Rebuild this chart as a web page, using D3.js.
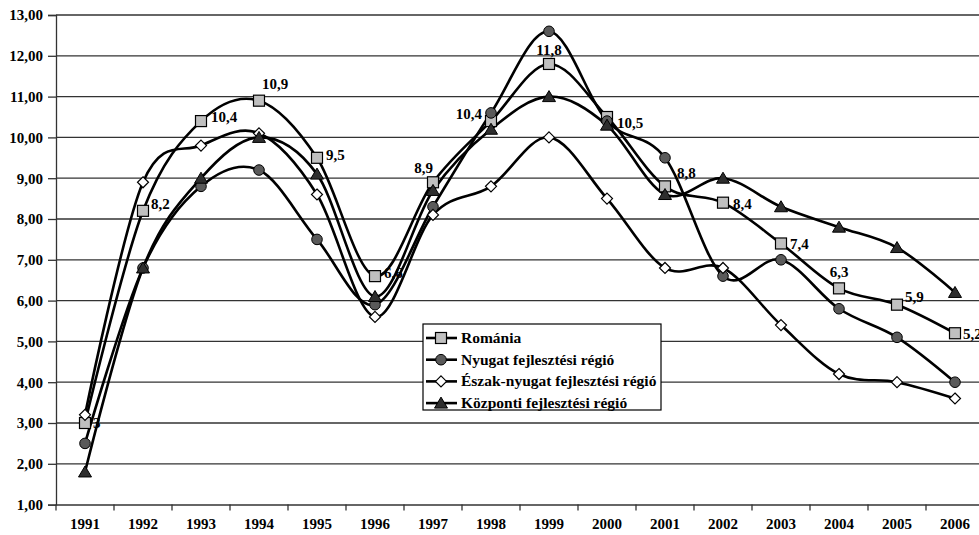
<!DOCTYPE html>
<html>
<head>
<meta charset="utf-8">
<script src="https://cdn.jsdelivr.net/npm/d3@7"></script>
<style>
body { margin: 0; background: #fff; }
text { font-family: "Liberation Serif", "Times New Roman", serif; font-weight: bold; }
</style>
</head>
<body>
<svg width="979" height="535"></svg>
<script>
var years = ["1991","1992","1993","1994","1995","1996","1997","1998","1999","2000","2001","2002","2003","2004","2005","2006"];
var romania   = [3.0, 8.2, 10.4, 10.9, 9.5, 6.6, 8.9, 10.4, 11.8, 10.5, 8.8, 8.4, 7.4, 6.3, 5.9, 5.2];
var nyugat    = [2.5, 6.8, 8.8, 9.2, 7.5, 5.9, 8.3, 10.6, 12.6, 10.4, 9.5, 6.6, 7.0, 5.8, 5.1, 4.0];
var eszakNy   = [3.2, 8.9, 9.8, 10.1, 8.6, 5.6, 8.1, 8.8, 10.0, 8.5, 6.8, 6.8, 5.4, 4.2, 4.0, 3.6];
var kozponti  = [1.8, 6.8, 9.0, 10.0, 9.1, 6.1, 8.7, 10.2, 11.0, 10.3, 8.6, 9.0, 8.3, 7.8, 7.3, 6.2];
var seriesNames = ["Románia", "Nyugat fejlesztési régió", "Észak-nyugat fejlesztési régió", "Központi fejlesztési régió"];
var yTicks = [1,2,3,4,5,6,7,8,9,10,11,12,13];
var romaniaLabels = ["3","8,2","10,4","10,9","9,5","6,6","8,9","10,4","11,8","10,5","8,8","8,4","7,4","6,3","5,9","5,2"];

// label placement relative to the Romania marker: [dx, dy, anchor]
var labelPlace = [
  [8, 5, "start"], [8, -2, "start"], [10, 1, "start"], [3, -12, "start"],
  [9, 2, "start"], [9, 2, "start"], [0, -9, "end"], [-9, -2, "end"],
  [0, -9, "middle"], [10, 11, "start"], [12, -8, "start"], [10, 6, "start"],
  [9, 6, "start"], [0, -11, "middle"], [8, -3, "start"], [8, 6, "start"]
];

var svg = d3.select("svg");
var plotLeft = 56, plotRight = 984, plotTop = 15, plotBottom = 504.6;

var x = d3.scaleBand().domain(years).range([plotLeft, plotRight]).padding(0);
var y = d3.scaleLinear().domain([1, 13]).range([plotBottom, plotTop]);

// grid lines
svg.append("g").selectAll("line")
  .data(yTicks.slice(1))
  .enter().append("line")
  .attr("x1", plotLeft).attr("x2", 979)
  .attr("y1", function(d) { return y(d); })
  .attr("y2", function(d) { return y(d); })
  .attr("stroke", "#333").attr("stroke-width", 1.3);

// y axis
var yAxis = svg.append("g")
  .attr("transform", "translate(" + plotLeft + ",0)")
  .call(d3.axisLeft(y).tickValues(yTicks).tickSize(8).tickPadding(5)
    .tickFormat(function(d) { return d3.format(".2f")(d).replace(".", ","); }));
yAxis.select(".domain").attr("stroke", "#333").attr("stroke-width", 1.3);
yAxis.selectAll(".tick line").attr("stroke", "#333").attr("stroke-width", 1.3);
yAxis.selectAll("text").attr("font-size", 15).attr("fill", "#000")
  .style("font-family", "'Liberation Serif', serif").style("font-weight", "bold");

// x axis
var xAxis = svg.append("g")
  .attr("transform", "translate(0," + plotBottom + ")")
  .call(d3.axisBottom(x).tickSize(0).tickPadding(14));
xAxis.select(".domain").attr("stroke", "#333").attr("stroke-width", 1.5);
xAxis.selectAll("text").attr("font-size", 15).attr("fill", "#000")
  .style("font-family", "'Liberation Serif', serif").style("font-weight", "bold");
svg.append("g").selectAll("line")
  .data(years)
  .enter().append("line")
  .attr("x1", function(d) { return x(d); }).attr("x2", function(d) { return x(d); })
  .attr("y1", plotBottom).attr("y2", plotBottom + 6)
  .attr("stroke", "#333").attr("stroke-width", 1.3);

var cx = function(i) { return x(years[i]) + x.bandwidth() / 2; };

var line = d3.line()
  .x(function(d, i) { return cx(i); })
  .y(function(d) { return y(d); })
  .curve(d3.curveCardinal.tension(0));

var allSeries = [romania, nyugat, eszakNy, kozponti];
var markerKind = ["square", "circle", "diamond", "triangle"];
var markerFill = ["#c0c0c0", "#5a5a5a", "#ffffff", "#2e2e2e"];

svg.append("g").selectAll("path")
  .data(allSeries)
  .enter().append("path")
  .attr("d", line)
  .attr("fill", "none")
  .attr("stroke", "#000")
  .attr("stroke-width", 2.6);

function marker(sel, kind, fill) {
  if (kind === "square") {
    sel.append("rect").attr("x", -5.5).attr("y", -5.5).attr("width", 11).attr("height", 11)
      .attr("fill", fill).attr("stroke", "#000").attr("stroke-width", 1.2);
  } else if (kind === "circle") {
    sel.append("circle").attr("r", 5.3).attr("fill", fill).attr("stroke", "#000").attr("stroke-width", 1);
  } else if (kind === "diamond") {
    sel.append("path").attr("d", "M0,-5.5L5.5,0L0,5.5L-5.5,0Z")
      .attr("fill", fill).attr("stroke", "#000").attr("stroke-width", 1.2);
  } else {
    sel.append("path").attr("d", "M0,-6L6.5,5L-6.5,5Z")
      .attr("fill", fill).attr("stroke", "#000").attr("stroke-width", 1);
  }
}

allSeries.forEach(function(s, k) {
  var g = svg.append("g");
  s.forEach(function(v, i) {
    var m = g.append("g").attr("transform", "translate(" + cx(i) + "," + y(v) + ")");
    marker(m, markerKind[k], markerFill[k]);
  });
});

// Romania data labels
svg.append("g").selectAll("text")
  .data(romaniaLabels)
  .enter().append("text")
  .attr("x", function(d, i) { return cx(i) + labelPlace[i][0]; })
  .attr("y", function(d, i) { return y(romania[i]) + labelPlace[i][1]; })
  .attr("text-anchor", function(d, i) { return labelPlace[i][2]; })
  .attr("font-size", 15)
  .attr("fill", "#000")
  .text(function(d) { return d; });

// legend
var lg = svg.append("g").attr("transform", "translate(423,324)");
lg.append("rect").attr("width", 238).attr("height", 86)
  .attr("fill", "#fff").attr("stroke", "#000").attr("stroke-width", 1.2);
seriesNames.forEach(function(name, k) {
  var row = lg.append("g").attr("transform", "translate(0," + (14 + k * 21.7) + ")");
  row.append("line").attr("x1", 3).attr("x2", 34).attr("stroke", "#000").attr("stroke-width", 2.6);
  var m = row.append("g").attr("transform", "translate(18,0)");
  marker(m, markerKind[k], markerFill[k]);
  row.append("text").attr("x", 38).attr("y", 5).attr("font-size", 15.5).attr("fill", "#000").text(name);
});
</script>
</body>
</html>
